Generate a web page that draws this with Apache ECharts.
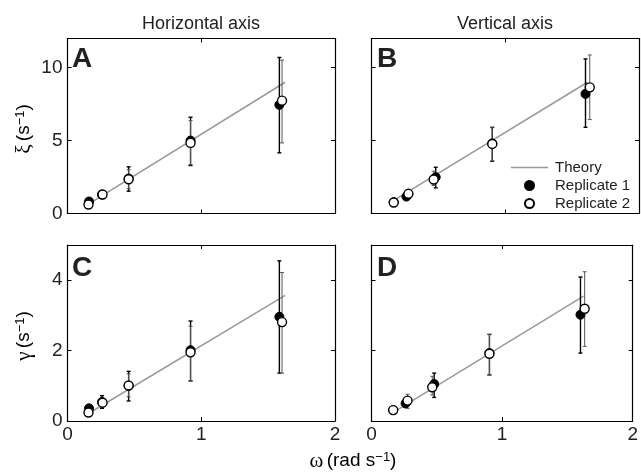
<!DOCTYPE html>
<html>
<head>
<meta charset="utf-8">
<script src="https://cdn.jsdelivr.net/npm/echarts@6/dist/echarts.min.js"></script>
<style>html,body{margin:0;padding:0;background:#fff}#c{width:641px;height:473px}</style>
</head>
<body>
<div id="c"></div>
<script>
// ---------- data ----------
const xTickLabels = [0, 1, 2];
const xiTickLabels = [0, 5, 10];
const gammaTickLabels = [0, 2, 4];
const legendNames = ['Theory', 'Replicate 1', 'Replicate 2'];
const columnTitles = ['Horizontal axis', 'Vertical axis'];
const panelLetters = ['A', 'B', 'C', 'D'];

// Panel A (xi, horizontal axis)
const aTheory = [[0.16, 0.66], [1.627, 9.0]];
const aRep1X = [0.161, 0.258, 0.457, 0.92, 1.584];
const aRep1Y = [0.82, 1.30, 2.40, 5.00, 7.45];
const aRep1Lo = [0.70, 1.15, 1.53, 3.29, 4.16];
const aRep1Hi = [0.95, 1.45, 3.20, 6.60, 10.70];
const aRep2X = [0.157, 0.262, 0.457, 0.92, 1.604];
const aRep2Y = [0.62, 1.30, 2.35, 4.84, 7.74];
const aRep2Lo = [0.50, 1.15, 1.70, 3.35, 4.84];
const aRep2Hi = [0.75, 1.45, 3.00, 6.37, 10.52];

// Panel B (xi, vertical axis)
const bTheory = [[0.17, 0.92], [1.615, 9.0]];
const bRep1X = [0.166, 0.261, 0.48, 0.903, 1.60];
const bRep1Y = [0.78, 1.16, 2.49, 4.80, 8.20];
const bRep1Lo = [0.65, 1.00, 1.76, 3.58, 5.91];
const bRep1Hi = [0.90, 1.35, 3.17, 5.91, 10.60];
const bRep2X = [0.166, 0.276, 0.465, 0.903, 1.632];
const bRep2Y = [0.75, 1.35, 2.33, 4.77, 8.65];
const bRep2Lo = [0.62, 1.15, 1.92, 3.60, 6.44];
const bRep2Hi = [0.88, 1.60, 2.90, 5.88, 10.87];

// Panel C (gamma, horizontal axis)
const cTheory = [[0.16, 0.22], [1.627, 3.57]];
const cRep1X = [0.161, 0.258, 0.457, 0.92, 1.584];
const cRep1Y = [0.36, 0.54, 1.00, 2.01, 2.96];
const cRep1Lo = [0.30, 0.36, 0.57, 1.14, 1.36];
const cRep1Hi = [0.42, 0.72, 1.41, 2.84, 4.55];
const cRep2X = [0.157, 0.262, 0.457, 0.92, 1.604];
const cRep2Y = [0.24, 0.52, 1.01, 1.95, 2.81];
const cRep2Lo = [0.18, 0.42, 0.69, 1.14, 1.36];
const cRep2Hi = [0.30, 0.64, 1.34, 2.69, 4.22];

// Panel D (gamma, vertical axis)
const dTheory = [[0.17, 0.25], [1.624, 3.55]];
const dRep1X = [0.166, 0.261, 0.48, 0.903, 1.60];
const dRep1Y = [0.31, 0.50, 1.05, 1.93, 3.02];
const dRep1Lo = [0.25, 0.40, 0.67, 1.31, 1.93];
const dRep1Hi = [0.37, 0.62, 1.36, 2.46, 4.09];
const dRep2X = [0.166, 0.276, 0.465, 0.903, 1.632];
const dRep2Y = [0.31, 0.58, 0.96, 1.91, 3.19];
const dRep2Lo = [0.25, 0.36, 0.74, 1.31, 2.12];
const dRep2Hi = [0.37, 0.76, 1.27, 2.46, 4.24];

// ---------- build ----------
const FONT = "'Liberation Sans', Arial, Helvetica, sans-serif";
const panels = [
  {theory: aTheory, r1: [aRep1X, aRep1Y, aRep1Lo, aRep1Hi], r2: [aRep2X, aRep2Y, aRep2Lo, aRep2Hi], ymax: 12, yint: 5, yl: xiTickLabels, xlab: false,
   grid: {left: 67.5, top: 38.5, width: 267.5, height: 175}},
  {theory: bTheory, r1: [bRep1X, bRep1Y, bRep1Lo, bRep1Hi], r2: [bRep2X, bRep2Y, bRep2Lo, bRep2Hi], ymax: 12, yint: 5, yl: null, xlab: false,
   grid: {left: 371.5, top: 38.5, width: 267.5, height: 175}},
  {theory: cTheory, r1: [cRep1X, cRep1Y, cRep1Lo, cRep1Hi], r2: [cRep2X, cRep2Y, cRep2Lo, cRep2Hi], ymax: 5, yint: 2, yl: gammaTickLabels, xlab: true,
   grid: {left: 67.5, top: 245, width: 267.5, height: 176}},
  {theory: dTheory, r1: [dRep1X, dRep1Y, dRep1Lo, dRep1Hi], r2: [dRep2X, dRep2Y, dRep2Lo, dRep2Hi], ymax: 5, yint: 2, yl: null, xlab: true,
   grid: {left: 371.5, top: 245, width: 267.5, height: 176}}
];

function labelFilter(list) {
  return function (v) {
    if (!list) return '';
    for (const t of list) if (Math.abs(t - v) < 1e-9) return String(t);
    return '';
  };
}

function errRender(color, width) {
  return function (params, api) {
    const x = api.value(0), lo = api.value(1), hi = api.value(2);
    const pLo = api.coord([x, lo]);
    const pHi = api.coord([x, hi]);
    const hw = 2;
    const st = {stroke: color, lineWidth: width};
    return {type: 'group', children: [
      {type: 'line', shape: {x1: pLo[0], y1: pLo[1], x2: pHi[0], y2: pHi[1]}, style: st},
      {type: 'line', shape: {x1: pLo[0] - hw, y1: pLo[1], x2: pLo[0] + hw, y2: pLo[1]}, style: st},
      {type: 'line', shape: {x1: pHi[0] - hw, y1: pHi[1], x2: pHi[0] + hw, y2: pHi[1]}, style: st}
    ]};
  };
}

const grids = [], xAxes = [], yAxes = [], series = [];
const axisLine = {show: true, onZero: false, lineStyle: {color: '#000', width: 1.2}};
const axisTick = {show: true, inside: true, length: 4, lineStyle: {color: '#000', width: 1}};
panels.forEach((p, i) => {
  grids.push(Object.assign({containLabel: false}, p.grid));
  xAxes.push({type: 'value', gridIndex: i, position: 'bottom', min: 0, max: 2, interval: 1,
    axisLine, axisTick, splitLine: {show: false},
    axisLabel: {show: p.xlab, formatter: labelFilter(xTickLabels), color: '#222', fontSize: 19, fontFamily: FONT, margin: 4}});
  xAxes.push({type: 'value', gridIndex: i, position: 'top', min: 0, max: 2, interval: 1,
    axisLine, axisTick, splitLine: {show: false}, axisLabel: {show: false}});
  yAxes.push({type: 'value', gridIndex: i, position: 'left', min: 0, max: p.ymax, interval: p.yint,
    axisLine, axisTick, splitLine: {show: false},
    axisLabel: {show: !!p.yl, formatter: labelFilter(p.yl), color: '#222', fontSize: 19, fontFamily: FONT, margin: 5}});
  yAxes.push({type: 'value', gridIndex: i, position: 'right', min: 0, max: p.ymax, interval: p.yint,
    axisLine, axisTick, splitLine: {show: false}, axisLabel: {show: false}});
  const xi = i * 2, yi = i * 2;
  series.push({type: 'line', name: 'Theory', xAxisIndex: xi, yAxisIndex: yi, data: p.theory,
    symbol: 'none', lineStyle: {color: '#999', width: 1.5}, itemStyle: {color: '#999'}, z: 1, silent: true, animation: false});
  const e1 = p.r1[0].map((x, k) => [x, p.r1[2][k], p.r1[3][k]]);
  const e2 = p.r2[0].map((x, k) => [x, p.r2[2][k], p.r2[3][k]]);
  series.push({type: 'custom', xAxisIndex: xi, yAxisIndex: yi, data: e1, encode: {x: 0, y: [1, 2]},
    renderItem: errRender('#000', 1.4), z: 2, silent: true, animation: false});
  series.push({type: 'custom', xAxisIndex: xi, yAxisIndex: yi, data: e2, encode: {x: 0, y: [1, 2]},
    renderItem: errRender('#555', 1), z: 2, silent: true, animation: false});
  series.push({type: 'scatter', name: 'Replicate 1', xAxisIndex: xi, yAxisIndex: yi,
    data: p.r1[0].map((x, k) => [x, p.r1[1][k]]), symbol: 'circle', symbolSize: 9,
    itemStyle: {color: '#000', borderColor: '#000', borderWidth: 1, opacity: 1}, z: 3, animation: false});
  series.push({type: 'scatter', name: 'Replicate 2', xAxisIndex: xi, yAxisIndex: yi,
    data: p.r2[0].map((x, k) => [x, p.r2[1][k]]), symbol: 'circle', symbolSize: 9,
    itemStyle: {color: '#fff', borderColor: '#000', borderWidth: 1.4, opacity: 1}, z: 4, animation: false});
});

function richLabel(greek, rest, color) {
  return {text: '{g|' + greek + '} {t|' + rest + '}{s|−1}{t|)}', textAlign: 'center', textVerticalAlign: 'middle',
    rich: {g: {fontFamily: "'Liberation Serif', serif", fontSize: 21, color: color},
           t: {fontFamily: FONT, fontSize: 19, color: color},
           s: {fontFamily: FONT, fontSize: 13, color: color, verticalAlign: 'top'}}};
}

const graphics = [
  {type: 'text', x: 201, y: 24, style: {text: columnTitles[0], font: '18px ' + FONT, fill: '#222', textAlign: 'center', textVerticalAlign: 'middle'}},
  {type: 'text', x: 505, y: 24, style: {text: columnTitles[1], font: '18px ' + FONT, fill: '#222', textAlign: 'center', textVerticalAlign: 'middle'}},
  {type: 'text', x: 72, y: 59, style: {text: panelLetters[0], font: 'bold 28px ' + FONT, fill: '#222', textAlign: 'left', textVerticalAlign: 'middle'}},
  {type: 'text', x: 377, y: 59, style: {text: panelLetters[1], font: 'bold 28px ' + FONT, fill: '#222', textAlign: 'left', textVerticalAlign: 'middle'}},
  {type: 'text', x: 72, y: 268, style: {text: panelLetters[2], font: 'bold 28px ' + FONT, fill: '#222', textAlign: 'left', textVerticalAlign: 'middle'}},
  {type: 'text', x: 377, y: 268, style: {text: panelLetters[3], font: 'bold 28px ' + FONT, fill: '#222', textAlign: 'left', textVerticalAlign: 'middle'}},
  {type: 'text', x: 24, y: 129, rotation: Math.PI / 2, style: richLabel('ξ', '(s', '#444')},
  {type: 'text', x: 24, y: 336, rotation: Math.PI / 2, style: richLabel('γ', '(s', '#444')},
  {type: 'text', x: 353, y: 461, style: richLabel('ω', '(rad s', '#222')}
];

const chart = echarts.init(document.getElementById('c'), null, {renderer: 'canvas'});
chart.setOption({
  animation: false,
  backgroundColor: '#fff',
  grid: grids,
  xAxis: xAxes,
  yAxis: yAxes,
  legend: {
    data: [
      {name: legendNames[0], icon: 'path://M0,0h37v1.5h-37z', itemStyle: {color: '#999', borderWidth: 0}},
      {name: legendNames[1]},
      {name: legendNames[2]}
    ],
    orient: 'vertical', left: 506, top: 154, itemWidth: 37, itemHeight: 9,
    itemGap: 1, selectedMode: false,
    textStyle: {fontSize: 15, fontFamily: FONT, color: '#222', lineHeight: 17, padding: [0, 0, 0, 2]}},
  series: series,
  graphic: graphics
});
</script>
</body>
</html>
